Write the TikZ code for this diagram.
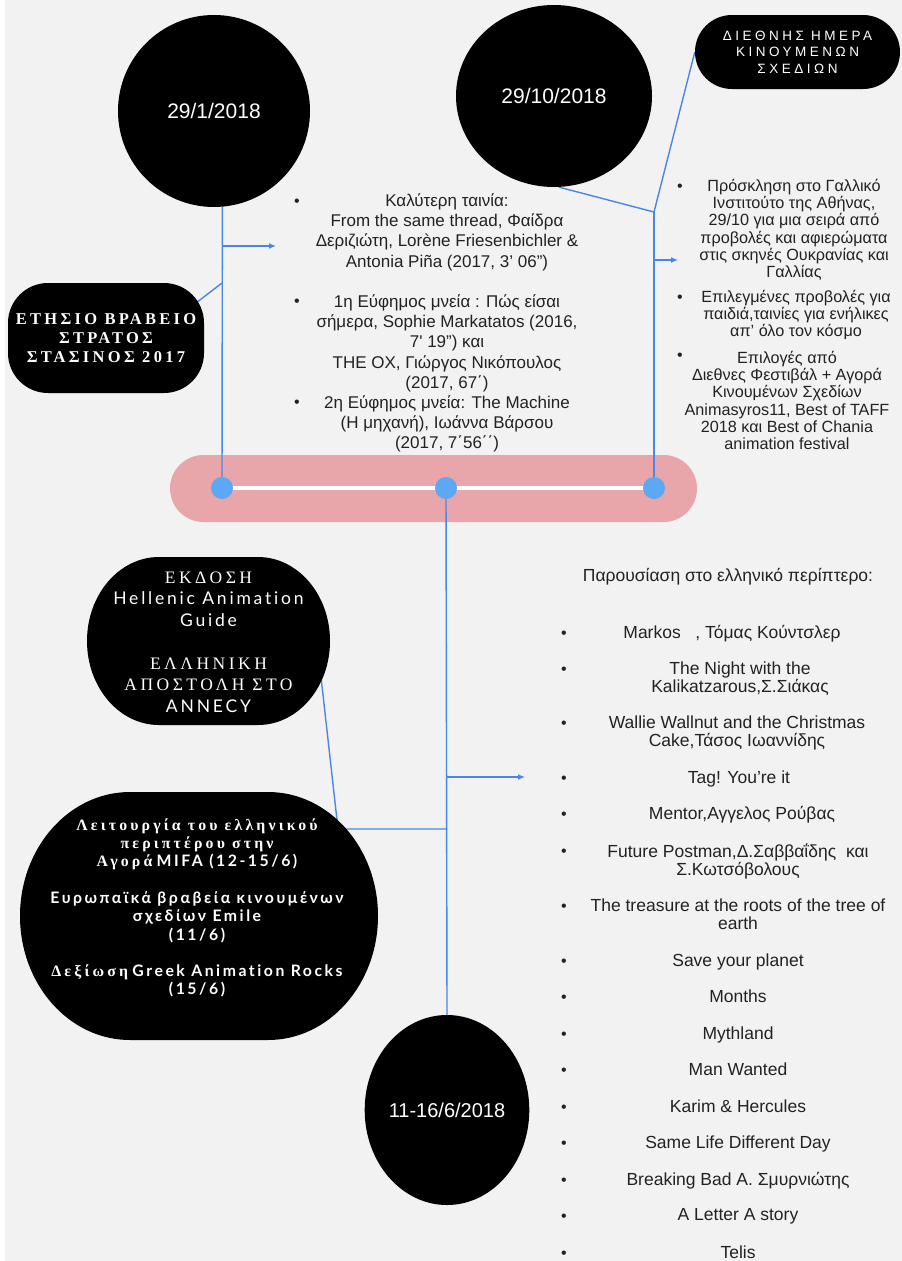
\documentclass[tikz,border=0pt]{standalone}
\usepackage{fontspec}
\setmainfont{Liberation Sans}
\newfontfamily\serifsp[LetterSpace=20]{Liberation Serif}
\newfontfamily\latosp[LetterSpace=16,Ligatures=NoCommon]{Lato}
\newfontfamily\capsp[LetterSpace=26]{Liberation Sans}
\usetikzlibrary{arrows.meta,shapes.geometric}
\definecolor{bgc}{RGB}{242,242,242}
\definecolor{pinkbar}{RGB}{232,166,170}
\definecolor{dotblue}{RGB}{92,168,245}
\definecolor{linkblue}{RGB}{74,134,232}
\definecolor{txt}{RGB}{34,34,34}
\pgfdeclarelayer{back}
\pgfdeclarelayer{mid}
\pgfsetlayers{back,mid,main}
\begin{document}
\begin{tikzpicture}[x=1pt,y=-1pt,
  link/.style={draw=linkblue, line width=1.4pt},
  linkarrow/.style={link, -{Latex[length=7pt,width=6pt]}},
  disk/.style={ellipse, fill=black, inner sep=0pt, text=white, font=\fontsize{21}{25}\selectfont},
  blob/.style={rectangle, fill=black, inner sep=0pt, text=white, align=center},
  blobtext/.style={text=white, align=center, inner sep=0pt},
  bluedot/.style={circle, fill=dotblue, minimum size=22pt, inner sep=0pt},
  bodytext/.style={text=txt, align=center, inner sep=0pt, anchor=north},
  midtext/.style={bodytext, font=\fontsize{17}{20.2}\selectfont},
  righttext/.style={bodytext, font=\fontsize{16.2}{17.3}\selectfont},
  listtext/.style={bodytext, font=\fontsize{17.5}{18.5}\selectfont},
  bul/.style={text=txt, inner sep=0pt, font=\fontsize{16}{16}\selectfont, yshift=-2.5pt}
]
\useasboundingbox (0,0) rectangle (902,1261);
\begin{pgfonlayer}{back}
  \fill[white] (0,0) rectangle (902,1261);
  \fill[bgc] (5,0) rectangle (902,1261);
\end{pgfonlayer}

% black shapes
\node[disk, minimum width=192pt, minimum height=192pt] (c1) at (214,111) {29/1/2018};
\node[disk, minimum width=196pt, minimum height=182pt] (c2) at (554,96) {29/10/2018};
\node[disk, minimum width=164pt, minimum height=190pt, font=\fontsize{20}{24}\selectfont] (c3) at (447,1110) {11-16/6/2018};

\node[blob, minimum width=205pt, minimum height=74pt, rounded corners=37pt,
      font={\capsp\fontsize{13.5}{16.5}\selectfont}] (dieth) at (797.5,52)
  {ΔΙΕΘΝΗΣ ΗΜΕΡΑ\\ΚΙΝΟΥΜΕΝΩΝ\\ΣΧΕΔΙΩΝ};

\node[blob, minimum width=196pt, minimum height=110pt, rounded corners=40pt,
      font={\serifsp\bfseries\fontsize{16.5}{19}\selectfont}] (etesio) at (106,338)
  {ΕΤΗΣΙΟ ΒΡΑΒΕΙΟ\\ΣΤΡΑΤΟΣ\\ΣΤΑΣΙΝΟΣ 2017};

% oval with elliptical ends (publication / Annecy)
\fill[black] (159,557) -- (258,557) .. controls (297.8,557) and (330,594.6) .. (330,641)
  .. controls (330,687.4) and (297.8,725) .. (258,725) -- (159,725)
  .. controls (119.2,725) and (87,687.4) .. (87,641)
  .. controls (87,594.6) and (119.2,557) .. (159,557) -- cycle;
\node[blobtext, font={\fontsize{17.5}{21.5}\selectfont}] (ekdosi) at (208.5,642)
  {{\serifsp ΕΚΔΟΣΗ}\\{\latosp Hellenic Animation}\\{\latosp Guide}\\[21.5pt]
   {\serifsp ΕΛΛΗΝΙΚΗ}\\{\serifsp ΑΠΟΣΤΟΛΗ ΣΤΟ}\\{\latosp ANNECY}};

% oval with elliptical ends (MIFA)
\fill[black] (130,792) -- (268,792) .. controls (328.75,792) and (378,847.5) .. (378,916)
  .. controls (378,984.5) and (328.75,1040) .. (268,1040) -- (130,1040)
  .. controls (69.25,1040) and (20,984.5) .. (20,916)
  .. controls (20,847.5) and (69.25,792) .. (130,792) -- cycle;
\node[blobtext, font={\fontsize{15.8}{18.3}\selectfont}] (mifa) at (197,908)
  {{\serifsp\bfseries Λειτουργία του ελληνικού}\\
   {\serifsp\bfseries περιπτέρου στην}\\
   {\serifsp\bfseries Αγορά}\ {\latosp\bfseries MIFA (12-15/6)}\\[18.3pt]
   {\latosp\bfseries Ευρωπαϊκά βραβεία κινουμένων}\\
   {\latosp\bfseries σχεδίων Emile}\\
   {\latosp\bfseries (11/6)}\\[18.3pt]
   {\serifsp\bfseries Δεξίωση}\ {\latosp\bfseries Greek Animation Rocks}\\
   {\latosp\bfseries (15/6)}};

% timeline bar and connectors
\coordinate (d1c) at (222,488);
\coordinate (d2c) at (446,488);
\coordinate (d3c) at (654,488);
\coordinate (jL) at (222,283);
\coordinate (eT) at (196,303);
\coordinate (aL0) at (222,246);
\coordinate (aL1) at (276,246);
\coordinate (jR) at (654,212);
\coordinate (aR0) at (654,260);
\coordinate (aR1) at (678,260);
\coordinate (aM0) at (446,777);
\coordinate (aM1) at (525,777);
\coordinate (jM) at (446,829);
\coordinate (kM) at (338,829);
\coordinate (eK) at (320,668);

\begin{pgfonlayer}{mid}
  \node[fill=pinkbar, minimum width=527pt, minimum height=67pt, rounded corners=33.5pt, inner sep=0pt] (bar) at (433.5,488.5) {};
  \draw[white, line width=4pt] (d1c) -- (d3c);
  \draw[link] (c1.-85) -- (d1c);
  \draw[link] (jL) -- (eT);
  \draw[linkarrow] (aL0) -- (aL1);
  \draw[link] (c2.-87) -- (jR) -- (dieth.west);
  \draw[link] (jR) -- (d3c);
  \draw[linkarrow] (aR0) -- (aR1);
  \draw[link] (d2c) -- (c3.north);
  \draw[linkarrow] (aM0) -- (aM1);
  \draw[link] (jM) -- (kM) -- (eK);
\end{pgfonlayer}

\node[bluedot] (d1) at (d1c) {};
\node[bluedot] (d2) at (d2c) {};
\node[bluedot] (d3) at (d3c) {};

% middle text
\node[midtext] (awards) at (447,193.5)
  {Καλύτερη ταινία:\\
   From the same thread, Φαίδρα\\
   Δεριζιώτη, Lorène Friesenbichler \&\\
   Antonia Piña (2017, 3’ 06”)\\[20.2pt]
   1η Εύφημος μνεία : Πώς είσαι\\
   σήμερα, Sophie Markatatos (2016,\\
   7\textquotesingle{} 19") και\\
   THE OX, Γιώργος Νικόπουλος\\
   (2017, 67΄)\\
   2η Εύφημος μνεία: The Machine\\
   (Η μηχανή), Ιωάννα Βάρσου\\
   (2017, 7΄56΄΄)};
\node[bul] (b1) at (297,200) {•};
\node[bul] (b2) at (297,300) {•};
\node[bul] (b3) at (297,401) {•};

% right top text
\node[righttext] (r1) at (794,178.7)
  {Πρόσκληση στο Γαλλικό\\Ινστιτούτο της Αθήνας,\\29/10 για μια σειρά από\\προβολές και αφιερώματα\\στις σκηνές Ουκρανίας και\\Γαλλίας};
\node[righttext] (r2) at (796,289.7)
  {Επιλεγμένες προβολές για\\παιδιά,ταινίες για ενήλικες\\απ’ όλο τον κόσμο};
\node[righttext] (r3) at (787,350.7)
  {Επιλογές από\\Διεθνες Φεστιβάλ + Αγορά\\Κινουμένων Σχεδίων\\Animasyros11, Best of TAFF\\2018 και Best of Chania\\animation festival};
\node[bul] (rb1) at (680,185) {•};
\node[bul] (rb2) at (680,296) {•};
\node[bul] (rb3) at (680,354) {•};

% bottom right list
\node[listtext] (head) at (728,568.5) {Παρουσίαση στο ελληνικό περίπτερο:};
\node[listtext] (l1) at (732,625.2) {Markos\ \ \ , Τόμας Κούντσλερ};
\node[listtext] (l2) at (740,661.2) {The Night with the\\Kalikatzarous,Σ.Σιάκας};
\node[listtext] (l3) at (737,715.2) {Wallie Wallnut and the Christmas\\Cake,Τάσος Ιωαννίδης};
\node[listtext] (l4) at (739,770.2) {Tag! You’re it};
\node[listtext] (l5) at (742,806.2) {Mentor,Αγγελος Ρούβας};
\node[listtext] (l6) at (738,843.2) {Future Postman,Δ.Σαββαΐδης\ \ και\\Σ.Κωτσόβολους};
\node[listtext] (l7) at (738,898.2) {The treasure at the roots of the tree of\\earth};
\node[listtext] (l8) at (738,953.2) {Save your planet};
\node[listtext] (l9) at (738,989.7) {Months};
\node[listtext] (l10) at (738,1026.2) {Mythland};
\node[listtext] (l11) at (738,1062.7) {Man Wanted};
\node[listtext] (l12) at (738,1099.2) {Karim \& Hercules};
\node[listtext] (l13) at (738,1135.7) {Same Life Different Day};
\node[listtext] (l14) at (738,1172.2) {Breaking Bad A. Σμυρνιώτης};
\node[listtext] (l15) at (738,1208.7) {A Letter A story};
\node[listtext] (l16) at (738,1245.2) {Telis};
\foreach \yy [count=\i] in {632,668,722,777,813,850,905,960,996.5,1033,1069.5,1106,1142.5,1179,1215.5,1252}
  \node[bul] (lb\i) at (564,\yy) {•};
\end{tikzpicture}
\end{document}
